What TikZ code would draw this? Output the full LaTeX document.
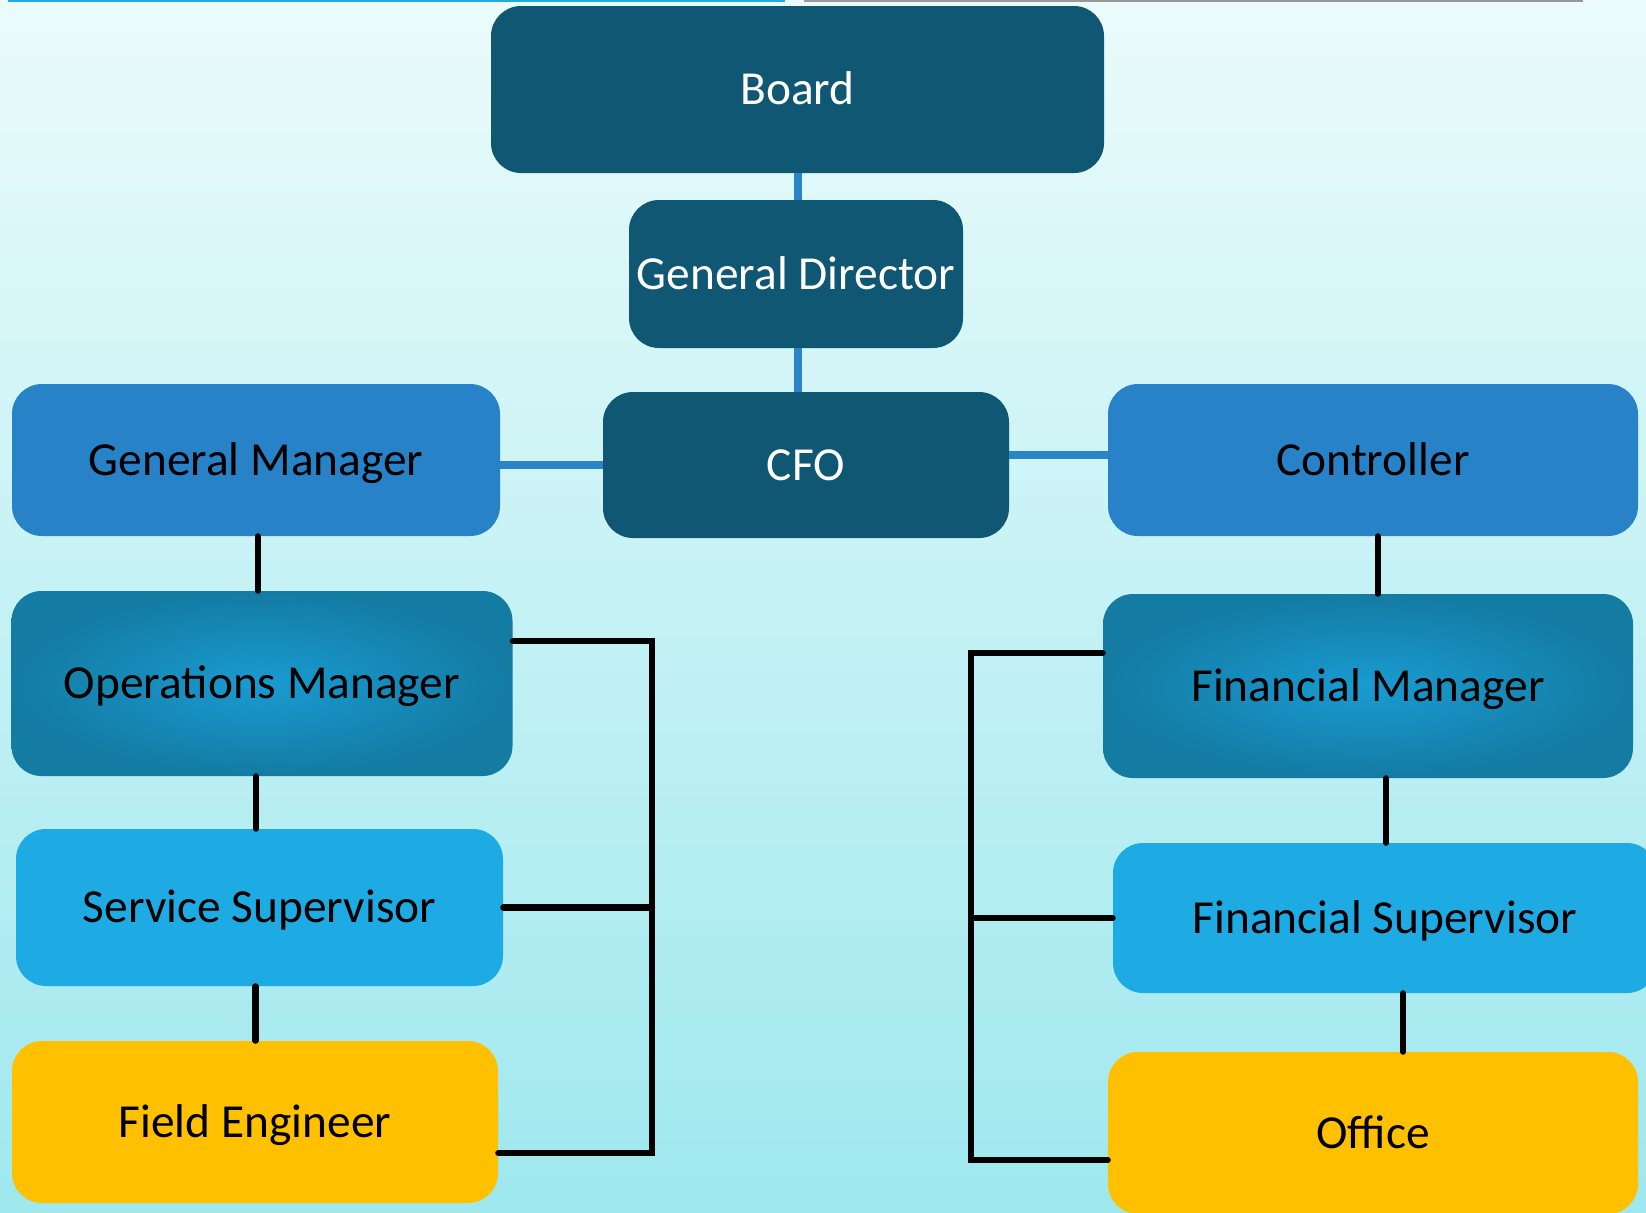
\documentclass[tikz,border=0pt]{standalone}
\usepackage{fontspec}
\setmainfont{Carlito}
\usepackage{xcolor}
\usepackage{tikz}
\usetikzlibrary{positioning}
\definecolor{execblue}{HTML}{0F5772}
\definecolor{mgrblue}{HTML}{2782C8}
\definecolor{opsinner}{HTML}{199BD1}
\definecolor{opsouter}{HTML}{147BA3}
\definecolor{supblue}{HTML}{1EABE3}
\definecolor{staffgold}{HTML}{FFC000}
\definecolor{linkblue}{HTML}{2A85C8}
\definecolor{bgtop}{HTML}{EBFBFB}
\definecolor{bgbottom}{HTML}{9EE8EE}
\tikzset{
  chart/.style={rounded corners=15pt,inner sep=0pt,align=center,text height=15.3pt,text depth=0pt,font=\fontsize{23.7}{28}\selectfont},
  exec/.style={chart,fill=execblue,text=white},
  mgr/.style={chart,fill=mgrblue},
  opsbox/.style={chart,inner color=opsinner,outer color=opsouter},
  supbox/.style={chart,fill=supblue},
  staff/.style={chart,fill=staffgold},
  bline/.style={line width=4pt,draw=linkblue},
  kline/.style={line width=3.2pt,line cap=round},
}

\begin{document}
\begin{tikzpicture}[x=0.5pt,y=-0.5pt]
  \useasboundingbox (0,0) rectangle (1646,1212);
  \fill[top color=bgtop,bottom color=bgbottom] (0,0) rectangle (1646,1212);
  \draw[line width=1pt,draw=supblue] (8,1) -- (785,1);
  \draw[line width=1pt,draw=gray!80] (804,1) -- (1583,1);

  \node[exec,minimum width=306.5pt,minimum height=83.5pt] (board) at (797.5,89.5) {Board};
  \node[exec,minimum width=167pt,minimum height=74pt] (gd) at (796,274) {General Director};
  \node[exec,minimum width=203pt,minimum height=73pt] (cfo) at (806,465) {CFO};
  \node[mgr,minimum width=244pt,minimum height=76pt] (gm) at (256,460) {General Manager};
  \node[mgr,minimum width=265pt,minimum height=76pt] (ctrl) at (1373,460) {Controller};
  \node[opsbox,minimum width=250.5pt,minimum height=92.5pt] (ops) at (262,683.5) {Operations Manager};
  \node[opsbox,minimum width=265pt,minimum height=92pt] (finm) at (1368,686) {Financial Manager};
  \node[supbox,minimum width=243.5pt,minimum height=78.5pt] (ss) at (259.5,907.5) {Service Supervisor};
  \node[supbox,minimum width=272pt,minimum height=75pt] (fins) at (1385,918) {Financial Supervisor};
  \node[staff,minimum width=243pt,minimum height=81pt] (fe) at (255,1122) {Field Engineer};
  \node[staff,minimum width=265pt,minimum height=81pt] (office) at (1373,1133) {Office};

  % blue links
  \coordinate (top) at (798,173);
  \draw[bline] (board.south -| top) -- (gd.north -| top);
  \draw[bline] (gd.south -| top) -- (cfo.north -| top);
  \draw[bline] (cfo.west) -- (cfo.west -| gm.east);
  \draw[bline] ([yshift=5pt]cfo.east) -- ([yshift=5pt]cfo.east -| ctrl.west);

  % black links
  \draw[kline] ([xshift=1pt]gm.south) -- ([xshift=1pt]gm.south |- ops.north);
  \draw[kline] ([xshift=-3pt]ops.south) -- ([xshift=-3pt]ops.south |- ss.north);
  \draw[kline] ([xshift=-2pt]ss.south) -- ([xshift=-2pt]ss.south |- fe.north);
  \draw[kline] ([xshift=2.5pt]ctrl.south) -- ([xshift=2.5pt]ctrl.south |- finm.north);
  \draw[kline] ([xshift=9pt]finm.south) -- ([xshift=9pt]finm.south |- fins.north);
  \draw[kline] ([xshift=15pt]office.north) -- ([xshift=15pt]office.north |- fins.south);

  % brackets
  \coordinate (lt) at (652,641);
  \coordinate (lb) at (652,1153);
  \coordinate (rt) at (971,653);
  \coordinate (rb) at (971,1160);
  \draw[kline] (ops.east |- lt) -- (lt) -- (lb) -- (fe.east |- lb);
  \draw[kline] (ss.east) -- (ss.east -| lt);
  \draw[kline] (finm.west |- rt) -- (rt) -- (rb) -- (office.west |- rb);
  \draw[kline] (fins.west) -- (fins.west -| rt);
\end{tikzpicture}
\end{document}
